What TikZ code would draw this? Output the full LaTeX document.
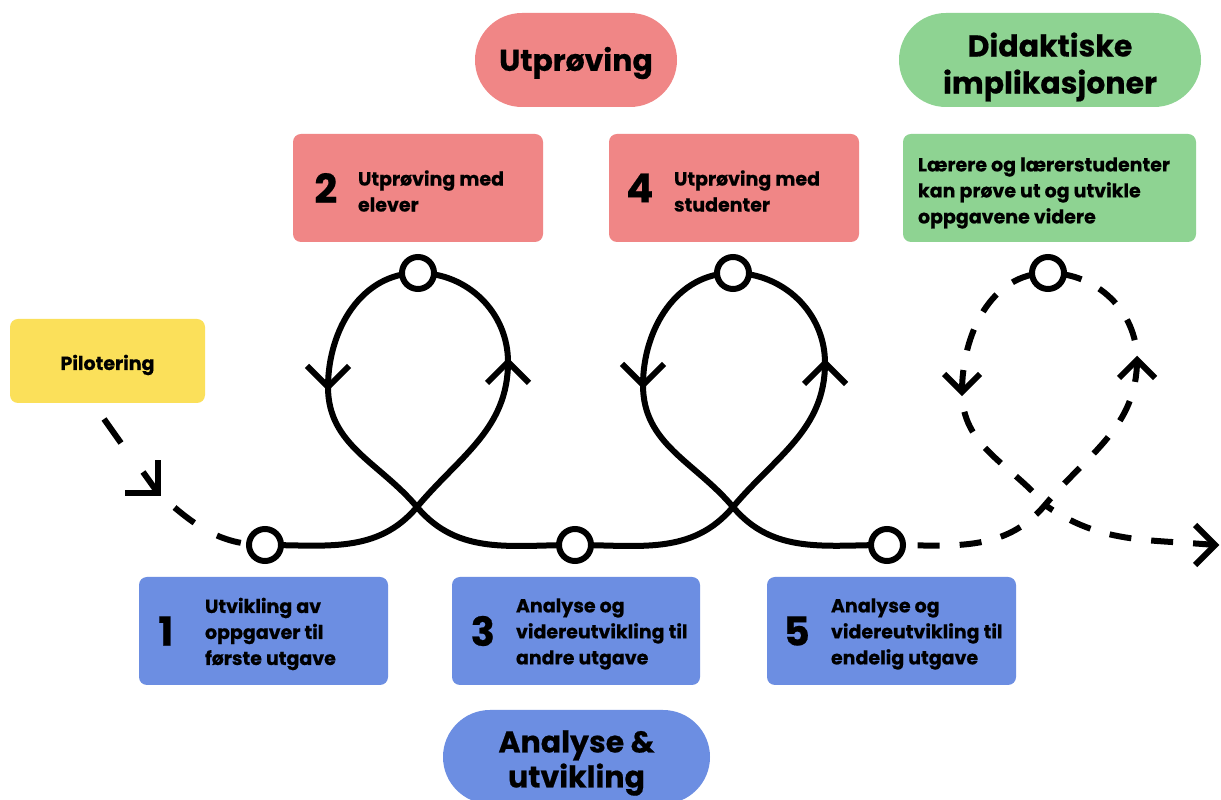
\documentclass[tikz,border=0pt]{standalone}
\usepackage{fontspec}
\setmainfont{Poppins}[BoldFeatures={FakeBold=0.5}]
\definecolor{cblue}{HTML}{6C8EE2}
\definecolor{cred}{HTML}{F08686}
\definecolor{cgreen}{HTML}{8ED392}
\definecolor{cyellow}{HTML}{FBE05A}
\tikzset{
  bx/.style={rectangle, rounded corners=8pt, inner sep=0pt, minimum height=108pt},
  pill/.style={rectangle, rounded corners=47pt, inner sep=0pt, minimum height=94pt},
  ttl/.style={inner sep=0pt, font=\fontsize{30}{37}\selectfont\bfseries, align=center},
  num/.style={inner sep=0pt, font=\fontsize{40}{40}\selectfont\bfseries},
  txt/.style={font=\fontsize{19}{26}\selectfont\bfseries, align=left, anchor=west, inner sep=0pt},
  sline/.style={line width=6pt},
  dsh/.style={line width=6pt, dash pattern=on 22pt off 20pt},
  dshgap/.style={dsh, dash phase=22pt},
  ring/.style={circle, draw, line width=6pt, fill=white, minimum size=32pt, inner sep=0pt},
  chev/.style={line width=6pt, miter limit=10}
}
\begin{document}
\begin{tikzpicture}[x=1pt,y=1pt]
\path[use as bounding box] (0,0) rectangle (1221,800);
\clip (0,0) rectangle (1221,800);
\fill[white] (0,0) rectangle (1221,800);

% pills
\node[pill, fill=cred, minimum width=202pt] (pU) at (576,740) {};
\node[ttl] (tU) at ([yshift=-3pt]pU.center) {Utprøving};
\node[pill, fill=cgreen, minimum width=302pt] (pD) at (1050,740) {};
\node[ttl] (tD) at ([yshift=-7pt]pD.center) {Didaktiske\\implikasjoner};
\node[pill, fill=cblue, minimum width=267pt] (pA) at (576.5,43) {};
\node[ttl, font=\fontsize{30}{35}\selectfont\bfseries] (tA) at ([yshift=-6pt]pA.center) {Analyse \&\\utvikling};

% boxes
\node[bx, fill=cyellow, minimum width=195pt, minimum height=84pt] (pil) at (107.5,439) {};
\node[txt, anchor=center] (tpil) at ([yshift=-4pt]pil.center) {Pilotering};

\node[bx, fill=cred, minimum width=250pt] (b2) at (418,612) {};
\node[num] (n2) at ([xshift=33pt]b2.west) {2};
\node[txt] (t2) at ([xshift=65pt,yshift=-3pt]b2.west) {Utprøving med\\elever};

\node[bx, fill=cred, minimum width=250pt] (b4) at (734,612) {};
\node[num] (n4) at ([xshift=31pt]b4.west) {4};
\node[txt] (t4) at ([xshift=65pt,yshift=-3pt]b4.west) {Utprøving med\\studenter};

\node[bx, fill=cgreen, minimum width=293pt] (bg) at (1049.5,612) {};
\node[txt] (tg) at ([xshift=15pt,yshift=-5pt]bg.west) {Lærere og lærerstudenter\\kan prøve ut og utvikle\\oppgavene videre};

\node[bx, fill=cblue, minimum width=249pt] (b1) at (263.5,169) {};
\node[num] (n1) at ([xshift=27pt]b1.west) {1};
\node[txt] (t1) at ([xshift=66pt,yshift=-3pt]b1.west) {Utvikling av\\oppgaver til\\første utgave};

\node[bx, fill=cblue, minimum width=248pt] (b3) at (576,169) {};
\node[num] (n3) at ([xshift=31pt]b3.west) {3};
\node[txt] (t3) at ([xshift=64pt,yshift=-3pt]b3.west) {Analyse og\\videreutvikling til\\andre utgave};

\node[bx, fill=cblue, minimum width=249pt] (b5) at (891.5,169) {};
\node[num] (n5) at ([xshift=30pt]b5.west) {5};
\node[txt] (t5) at ([xshift=64pt,yshift=-3pt]b5.west) {Analyse og\\videreutvikling til\\endelig utgave};

% path points
\coordinate (p1) at (265,255);
\coordinate (p2) at (418,527);
\coordinate (p3) at (575,255);
\coordinate (p4) at (733,527);
\coordinate (p5) at (887,255);
\coordinate (p6) at (1048,527);
\coordinate (X1) at (417,293);
\coordinate (X2) at (733,293);
\coordinate (X3) at (1045,295);
\coordinate (R1) at (508,438);
\coordinate (L1) at (328,413);
\coordinate (R2) at (825,437);
\coordinate (L2) at (643,415);
\coordinate (R3) at (1137,440);
\coordinate (L3) at (962,408);
\coordinate (s0) at (104,381);
\coordinate (q2) at (121,357);
\coordinate (q1) at (143,328);
\coordinate (pa) at (158,307);
\coordinate (pe) at (1215,255);

% dashed start (from Pilotering)
\draw[sline] (s0) -- (q2);
\draw[sline] (q1) -- (pa);
\draw[line width=6pt, dash pattern=on 25pt off 26pt, dash phase=29pt] (pa) to[out=-42,in=180] (p1);
% solid loops
\draw[sline] (p1) to[out=0,in=230] (X1) to[out=50,in=270] (R1) to[out=90,in=0] (p2)
  to[out=180,in=90] (L1) to[out=270,in=130] (X1) to[out=-50,in=180] (p3)
  to[out=0,in=230] (X2) to[out=50,in=270] (R2) to[out=90,in=0] (p4)
  to[out=180,in=90] (L2) to[out=270,in=130] (X2) to[out=-50,in=180] (p5);
% dashed loop
\draw[dsh] (R3) to[out=270,in=50] (X3) to[out=230,in=0] (p5);
\draw[dshgap] (R3) to[out=90,in=0] (p6);
\draw[dsh] (L3) to[out=90,in=180] (p6);
\draw[dshgap] (L3) to[out=270,in=130] (X3);
\draw[dsh] (pe) to[out=175,in=-35] (X3);

% chevrons
\draw[chev, shift={(pa)}, rotate=-45] (-23,23) -- (0,0) -- (-23,-23);
\draw[chev, shift={(L1)}, rotate=-90] (-21,21) -- (0,0) -- (-21,-21);
\draw[chev, shift={(R1)}, rotate=90] (-21,21) -- (0,0) -- (-21,-21);
\draw[chev, shift={(L2)}, rotate=-90] (-21,21) -- (0,0) -- (-21,-21);
\draw[chev, shift={(R2)}, rotate=90] (-21,21) -- (0,0) -- (-21,-21);
\draw[chev, shift={(L3)}, rotate=-90] (-18,18) -- (0,0) -- (-18,-18);
\draw[chev, shift={(R3)}, rotate=90] (-18,18) -- (0,0) -- (-18,-18);
\draw[chev, shift={(pe)}] (-20,20) -- (0,0) -- (-20,-20);

% rings
\node[ring] (c1) at (p1) {};
\node[ring] (c2) at (p2) {};
\node[ring] (c3) at (p3) {};
\node[ring] (c4) at (p4) {};
\node[ring] (c5) at (p5) {};
\node[ring] (c6) at (p6) {};
\end{tikzpicture}
\end{document}
